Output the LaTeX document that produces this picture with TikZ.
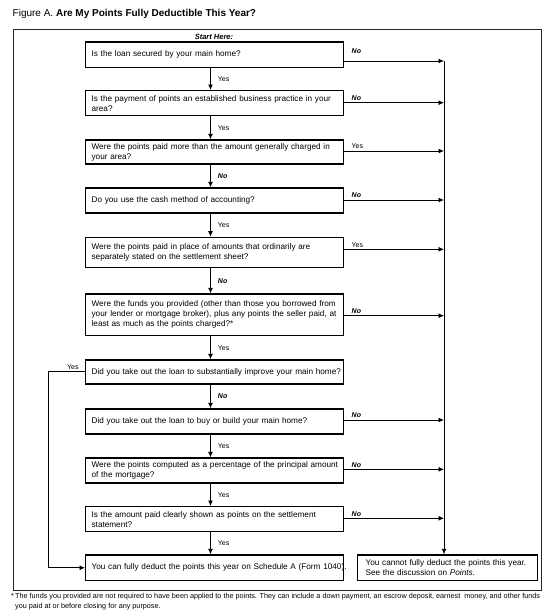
\documentclass[tikz,border=0pt]{standalone}
\usepackage{fontspec}
\setmainfont{Liberation Sans}
\usetikzlibrary{arrows.meta,calc}
\newcommand{\Lx}[1]{\mbox{#1}}
\begin{document}
\begin{tikzpicture}[x=1pt,y=-1pt,
  qbox/.style={draw=black, line width=1.25pt, anchor=north west, minimum width=258pt,
    text width=246pt, inner xsep=6pt, inner ysep=0pt, align=left,
    font=\fontsize{8.2}{10}\selectfont},
  ebox/.style={qbox, minimum width=180pt, text width=164pt, inner xsep=8pt},
  conn/.style={line width=0.9pt, -{Latex[length=5.5pt,width=5pt]}},
  plain/.style={line width=0.9pt},
  yeslab/.style={font=\fontsize{7}{8}\selectfont, inner sep=0pt},
  nolab/.style={font=\fontsize{7}{8}\selectfont\bfseries\itshape, inner sep=0pt},
  downlab/.style={anchor=west, xshift=7pt},
  rightlab/.style={pos=0, anchor=south west, xshift=7pt, yshift=1.5pt},
]
\useasboundingbox (0,0) rectangle (550,613);
% title
\node[anchor=west, inner sep=0pt, font=\fontsize{10}{12}\selectfont] (title) at (12.5,14)
  {Figure A. \textbf{Are My Points Fully Deductible This Year?}};
% frame
\node[draw=black!85, line width=0.9pt, minimum width=528.5pt, minimum height=561pt,
  anchor=north west, inner sep=0pt] (frame) at (12.5,29) {};
\node[font=\fontsize{7.5}{9}\selectfont\bfseries\itshape, inner sep=0pt] (start) at (214,36.5) {Start Here:};
% boxes
\node[qbox, minimum height=25.4pt] (b1) at (85,41.3) {Is the loan secured by your main home?};
\node[qbox, minimum height=25pt] (b2) at (85,90) {\Lx{Is the payment of points an established business practice in your}\\area?};
\node[qbox, minimum height=24pt] (b3) at (85,139.3) {\Lx{Were the points paid more than the amount generally charged in}\\your area?};
\node[qbox, minimum height=25pt] (b4) at (85,187.3) {Do you use the cash method of accounting?};
\node[qbox, minimum height=30pt] (b5) at (85,236.7) {\Lx{Were the points paid in place of amounts that ordinarily are}\\separately stated on the settlement sheet?};
\node[qbox, minimum height=41.7pt] (b6) at (85,293.3) {\Lx{Were the funds you provided (other than those you borrowed from}\\\Lx{your lender or mortgage broker), plus any points the seller paid, at}\\least as much as the points charged?*};
\node[qbox, minimum height=24pt] (b7) at (85,359.3) {\Lx{Did you take out the loan to substantially improve your main home?}};
\node[qbox, minimum height=25pt] (b8) at (85,408.3) {Did you take out the loan to buy or build your main home?};
\node[qbox, minimum height=25pt] (b9) at (85,457.3) {\Lx{Were the points computed as a percentage of the principal amount}\\of the mortgage?};
\node[qbox, minimum height=25pt] (b10) at (85,506) {\Lx{Is the amount paid clearly shown as points on the settlement}\\statement?};
\node[qbox, minimum height=25.7pt] (b11) at (85,554.3) {\Lx{You can fully deduct the points this year on Schedule A (Form 1040).}};
\node[ebox, minimum height=25.7pt] (b12) at (357,554.3) {You cannot fully deduct the points this year.\\See the discussion on \textit{Points}.};
% helper coordinates
\coordinate (ax) at (210.5,0);
\coordinate (r1) at (444,61);
\coordinate (r2) at (444,102.7);
\coordinate (r3) at (444,151);
\coordinate (r4) at (444,200);
\coordinate (r5) at (444,249.3);
\coordinate (r6) at (444,315.7);
\coordinate (r8) at (444,420);
\coordinate (r9) at (444,469.3);
\coordinate (r10) at (444,518.3);
% vertical flow
\draw[conn] (b1.south -| ax) -- node[yeslab, downlab] (v1) {Yes} (b2.north -| ax);
\draw[conn] (b2.south -| ax) -- node[yeslab, downlab] (v2) {Yes} (b3.north -| ax);
\draw[conn] (b3.south -| ax) -- node[nolab, downlab] (v3) {No} (b4.north -| ax);
\draw[conn] (b4.south -| ax) -- node[yeslab, downlab] (v4) {Yes} (b5.north -| ax);
\draw[conn] (b5.south -| ax) -- node[nolab, downlab] (v5) {No} (b6.north -| ax);
\draw[conn] (b6.south -| ax) -- node[yeslab, downlab] (v6) {Yes} (b7.north -| ax);
\draw[conn] (b7.south -| ax) -- node[nolab, downlab] (v7) {No} (b8.north -| ax);
\draw[conn] (b8.south -| ax) -- node[yeslab, downlab] (v8) {Yes} (b9.north -| ax);
\draw[conn] (b9.south -| ax) -- node[yeslab, downlab] (v9) {Yes} (b10.north -| ax);
\draw[conn] (b10.south -| ax) -- node[yeslab, downlab] (v10) {Yes} (b11.north -| ax);
% right exits
\draw[conn] (r1 -| b1.east) -- node[nolab, rightlab, yshift=5pt] (h1) {No} (r1);
\draw[conn] (r2 -| b2.east) -- node[nolab, rightlab] (h2) {No} (r2);
\draw[conn] (r3 -| b3.east) -- node[yeslab, rightlab] (h3) {Yes} (r3);
\draw[conn] (r4 -| b4.east) -- node[nolab, rightlab] (h4) {No} (r4);
\draw[conn] (r5 -| b5.east) -- node[yeslab, rightlab] (h5) {Yes} (r5);
\draw[conn] (r6 -| b6.east) -- node[nolab, rightlab] (h6) {No} (r6);
\draw[conn] (r8 -| b8.east) -- node[nolab, rightlab] (h8) {No} (r8);
\draw[conn] (r9 -| b9.east) -- node[nolab, rightlab] (h9) {No} (r9);
\draw[conn] (r10 -| b10.east) -- node[nolab, rightlab] (h10) {No} (r10);
% spine
\draw[conn] (r1) -- (r1 |- b12.north);
% left yes route
\draw[conn] (b7.west) -- node[yeslab, pos=0, anchor=south east, xshift=-6pt, yshift=1.5pt] (h7) {Yes}
  ++(-36.5,0) |- (b11.west);
% footnote
\node[anchor=north west, inner sep=0pt, align=left, font=\fontsize{7.25}{9.8}\selectfont] (note) at (15,593.5)
  {\llap{*\,}\Lx{The funds you provided are not required to have been applied to the points. They can include a down payment, an escrow deposit, earnest\ \ money, and other funds}\\you paid at or before closing for any purpose.};
\end{tikzpicture}
\end{document}
